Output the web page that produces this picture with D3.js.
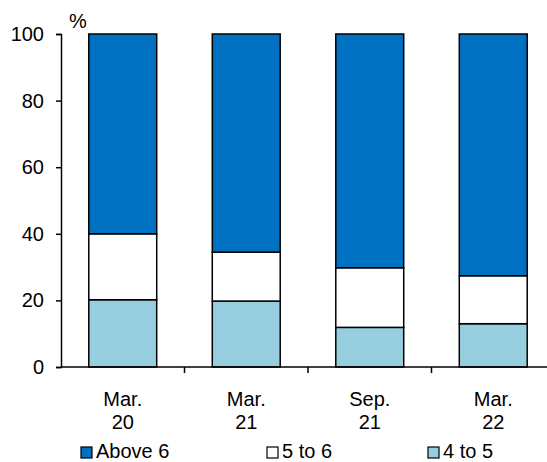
<!DOCTYPE html>
<html><head><meta charset="utf-8">
<script src="https://cdn.jsdelivr.net/npm/d3@7"></script>
<style>body{margin:0;background:#fff}svg{font-family:"Liberation Sans",Arial,sans-serif}</style>
</head><body>
<svg id="c" width="547" height="462"></svg>
<script>
const categories = [["Mar.","20"],["Mar.","21"],["Sep.","21"],["Mar.","22"]];
const s4to5 = [20.2, 19.8, 11.9, 13.0];
const s5to6 = [19.8, 14.7, 17.9, 14.4];
const sAbove6 = [60.0, 65.5, 70.2, 72.6];
const seriesNames = ["4 to 5","5 to 6","Above 6"];
const colors = ["#96CDDF","#FFFFFF","#0070C0"];
const yTicks = [0,20,40,60,80,100];
const FS = 20;

const svg = d3.select("#c");
const x = d3.scaleBand().domain(d3.range(categories.length)).range([61,555]).paddingInner(0.45).paddingOuter(0.225);
const y = d3.scaleLinear().domain([0,100]).range([367,34]);

const table = categories.map((c,i)=>({i, "4 to 5":s4to5[i], "5 to 6":s5to6[i], "Above 6":sAbove6[i]}));
const stack = d3.stack().keys(seriesNames)(table);

stack.forEach((layer,k)=>{
  svg.append("g").selectAll("rect").data(layer).join("rect")
    .attr("x",d=>x(d.data.i)).attr("width",x.bandwidth())
    .attr("y",d=>y(d[1])).attr("height",d=>y(d[0])-y(d[1]))
    .attr("fill",colors[k]).attr("stroke","#000").attr("stroke-width",1.5);
});

// y axis
const ya = svg.append("g").attr("transform","translate(61,0)")
  .call(d3.axisLeft(y).tickValues(yTicks).tickSize(5).tickPadding(12));
ya.select(".domain").attr("stroke-width",1.5);
ya.selectAll("line").attr("stroke-width",1.5);
ya.selectAll("text").attr("font-size",FS).attr("fill","#000").style("font-family","Liberation Sans, Arial, sans-serif");

// x axis baseline
svg.append("line").attr("x1",61).attr("x2",555).attr("y1",y(0)).attr("y2",y(0)).attr("stroke","#000").attr("stroke-width",1.5);
const bounds = d3.range(1,categories.length).map(i=>(x(i-1)+x.bandwidth()+x(i))/2);
svg.append("g").selectAll("line").data(bounds).join("line")
  .attr("x1",d=>d).attr("x2",d=>d).attr("y1",y(0)).attr("y2",y(0)+6).attr("stroke","#000").attr("stroke-width",1.5);

// category labels
const cl = svg.append("g").selectAll("text").data(categories).join("text")
  .attr("text-anchor","middle").attr("font-size",FS).attr("fill","#000");
cl.each(function(d,i){
  const t = d3.select(this);
  const cx = x(i)+x.bandwidth()/2;
  t.append("tspan").attr("x",cx).attr("y",406).text(d[0]);
  t.append("tspan").attr("x",cx).attr("y",429).text(d[1]);
});

// % label
svg.append("text").attr("x",69).attr("y",28).attr("font-size",FS).text("%");

// legend
const legendItems = [{name:"Above 6",c:colors[2],x:81},{name:"5 to 6",c:colors[1],x:267},{name:"4 to 5",c:colors[0],x:428}];
const lg = svg.append("g").selectAll("g").data(legendItems).join("g");
lg.append("rect").attr("x",d=>d.x).attr("y",447).attr("width",11).attr("height",11)
  .attr("fill",d=>d.c).attr("stroke","#000").attr("stroke-width",1.2);
lg.append("text").attr("x",d=>d.x+15).attr("y",458).attr("font-size",FS).text(d=>d.name);
</script>
</body></html>
